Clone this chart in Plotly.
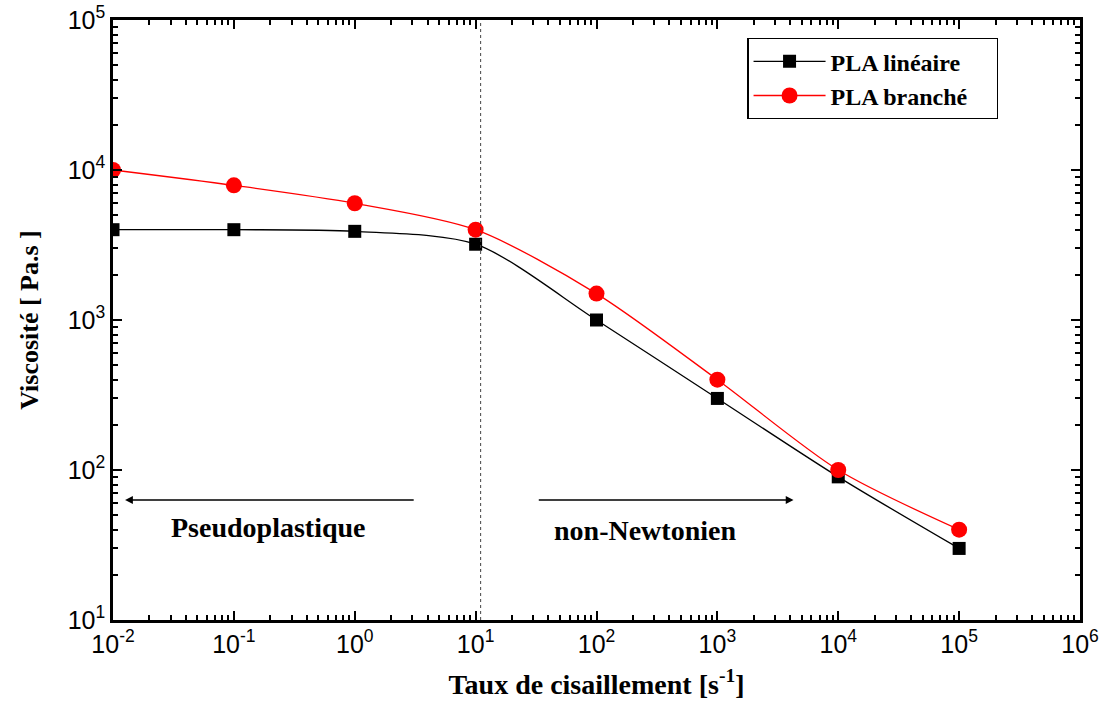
import plotly.graph_objects as go

shear_rate = [0.01, 0.1, 1, 10, 100, 1000, 1e4, 1e5]
visc_lineaire = [4000, 4000, 3900, 3200, 1000, 300, 90, 30]
visc_branche = [10000, 7900, 6000, 4000, 1500, 400, 100, 40]

x_ticks = [1e-2, 1e-1, 1, 10, 100, 1e3, 1e4, 1e5, 1e6]
x_ticktext = ["10<sup>-2</sup>", "10<sup>-1</sup>", "10<sup>0</sup>", "10<sup>1</sup>",
              "10<sup>2</sup>", "10<sup>3</sup>", "10<sup>4</sup>", "10<sup>5</sup>", "10<sup>6</sup>"]
y_ticks = [10, 100, 1e3, 1e4, 1e5]
y_ticktext = ["10<sup>1</sup>", "10<sup>2</sup>", "10<sup>3</sup>", "10<sup>4</sup>", "10<sup>5</sup>"]

x_minor = [m * d for d in x_ticks[:-1] for m in range(2, 10)]
y_minor = [m * d for d in y_ticks[:-1] for m in range(2, 10)]

serif = "Liberation Serif, Times New Roman, serif"
sans = "Liberation Sans, Arial, sans-serif"

fig = go.Figure()
fig.add_trace(go.Scatter(x=shear_rate, y=visc_lineaire, mode="lines+markers",
                         name="<b>PLA linéaire</b>\u00a0\u00a0\u00a0\u00a0",
                         line=dict(color="black", width=1.3, shape="spline", smoothing=0.8),
                         marker=dict(symbol="square", size=13, color="black")))
fig.add_trace(go.Scatter(x=shear_rate, y=visc_branche, mode="lines+markers",
                         name="<b>PLA branché</b>\u00a0\u00a0\u00a0\u00a0",
                         line=dict(color="red", width=1.3, shape="spline", smoothing=0.8),
                         marker=dict(symbol="circle", size=16, color="red")))

# vertical dotted line
fig.add_shape(type="line", x0=11, x1=11, y0=0, y1=1, xref="x", yref="paper",
              line=dict(color="#444", width=1, dash="dot"))

# arrows
fig.add_annotation(x=-1.9, y=1.8, ax=0.5, ay=1.8, xref="x", yref="y", axref="x", ayref="y",
                   showarrow=True, arrowhead=2, arrowsize=1.2, arrowwidth=1.3, arrowcolor="black", text="")
fig.add_annotation(x=3.63, y=1.8, ax=1.51, ay=1.8, xref="x", yref="y", axref="x", ayref="y",
                   showarrow=True, arrowhead=2, arrowsize=1.2, arrowwidth=1.3, arrowcolor="black", text="")
fig.add_annotation(x=-0.71, y=1.62, xref="x", yref="y", text="<b>Pseudoplastique</b>", showarrow=False,
                   font=dict(family=serif, size=28, color="black"))
fig.add_annotation(x=2.40, y=1.6, xref="x", yref="y", text="<b>non-Newtonien</b>", showarrow=False,
                   font=dict(family=serif, size=28, color="black"))

axis_common = dict(type="log", showline=True, linecolor="black", linewidth=2.5, mirror="ticks",
                   ticks="inside", ticklen=9, tickwidth=2, tickcolor="black", showgrid=False,
                   zeroline=False, automargin=False, ticklabeloverflow="allow",
                   tickfont=dict(family=sans, size=25, color="black"))

fig.update_xaxes(**axis_common, range=[-2, 6], tickvals=x_ticks, ticktext=x_ticktext,
                 minor=dict(tickvals=x_minor, ticks="inside", ticklen=5, tickwidth=2, tickcolor="black", showgrid=False),
                 title=dict(text="<b>Taux de cisaillement [s<sup>-1</sup>]</b>", font=dict(family=serif, size=28, color="black"),
                            standoff=18))
fig.update_yaxes(**axis_common, range=[1, 5], tickvals=y_ticks, ticktext=y_ticktext,
                 minor=dict(tickvals=y_minor, ticks="inside", ticklen=5, tickwidth=2, tickcolor="black", showgrid=False),
                 title=dict(text="<b>Viscosité [ Pa.s ]</b>", font=dict(family=serif, size=26, color="black"),
                            standoff=22))

fig.update_layout(width=1100, height=702, margin=dict(l=113, r=20, t=20, b=82),
                  paper_bgcolor="white", plot_bgcolor="white",
                  legend=dict(x=0.656, y=0.97, xanchor="left", yanchor="top", bgcolor="white",
                              bordercolor="black", borderwidth=1.2,
                              font=dict(family=serif, size=24, color="black"), itemwidth=72,
                              tracegroupgap=0),
                  showlegend=True)

fig.write_html("out.html")
